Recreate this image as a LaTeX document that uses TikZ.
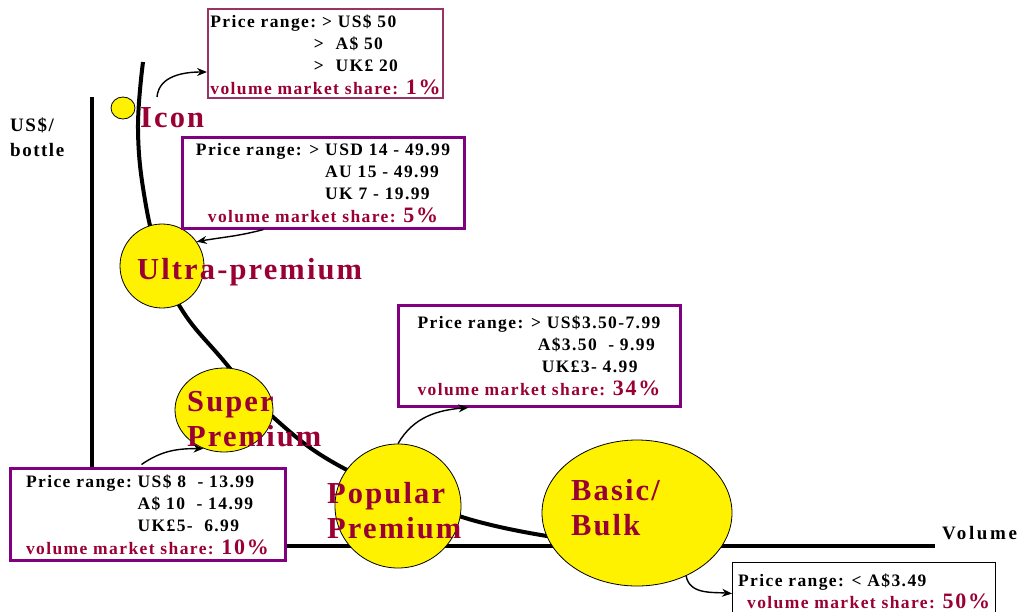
\documentclass[tikz,border=0pt]{standalone}
\usepackage{fontspec}
\setmainfont{Liberation Serif}[LetterSpace=8]
\usetikzlibrary{arrows.meta,shapes.geometric}
\definecolor{lblred}{RGB}{153,0,51}
\definecolor{iconborder}{RGB}{153,51,102}
\definecolor{boxpurple}{RGB}{128,0,128}
\newcommand{\pct}[1]{{\fontsize{22}{22}\selectfont #1}}
\newcommand{\lowerby}[2]{\raisebox{-#1}[\height][\depth]{#2}}
\begin{document}
\begin{tikzpicture}[x=1pt,y=1pt,
  ball/.style={draw=black, line width=0.8pt, fill=yellow, ellipse, inner sep=0},
  lbl/.style={text=lblred, font=\fontsize{30.5}{35}\selectfont\bfseries\addfontfeatures{LetterSpace=7}, align=left, inner sep=0, anchor=base west},
  axlbl/.style={text=black, font=\fontsize{19}{25}\selectfont\bfseries, align=left, inner sep=0, anchor=base west},
  pbox/.style={draw=boxpurple, line width=3pt, fill=white, inner sep=0, font=\fontsize{17.5}{22}\selectfont\bfseries},
  arr/.style={-{Stealth[length=10pt,width=8pt]}, line width=1.4pt},
  axis/.style={line width=4pt}
]
\useasboundingbox (0,0) rectangle (1019,-611);
% axes
\coordinate (ytop) at (92,-97);
\coordinate (origin) at (92,-546);
\coordinate (xright) at (935,-546);
\draw[axis] (ytop) -- (origin) -- (xright);
\node[axlbl] (ylab) at (10,-156) {US\$/\\bottle};
\node[axlbl, font=\fontsize{19}{25}\selectfont\bfseries\addfontfeatures{LetterSpace=14}] (xlab) at (942,-539) {Volume};
% curve
\draw[line width=4pt] plot[smooth,tension=0.7] coordinates {(143,-62) (138,-130) (145,-200) (160,-260) (182,-310) (223,-360) (273,-417) (347,-470) (462,-517) (560,-538)};
% balls
\node[ball, minimum width=24, minimum height=22] (iconball) at (123,-108) {};
\node[ball, minimum width=84, minimum height=84] (ultra) at (162,-266) {};
\node[ball, minimum width=98, minimum height=84] (super) at (224,-410) {};
\node[ball, minimum width=126, minimum height=124] (popular) at (398,-506) {};
\node[ball, minimum width=190, minimum height=146] (basic) at (637,-513) {};
% labels
\node[lbl] (iconlbl) at (140,-127) {Icon};
\node[lbl] (ultralbl) at (137,-279) {Ultra-premium};
\node[lbl] (superlbl) at (187,-446) {Super\\Premium};
\node[lbl] (poplbl) at (327,-538) {Popular\\Premium};
\node[lbl] (basiclbl) at (571,-535) {Basic/\\Bulk};
% boxes
\node[pbox, draw=iconborder, line width=2pt, minimum width=235, minimum height=87] (iconbox) at (325.5,-53.5) {%
\lowerby{3pt}{\begin{tabular}{@{}l@{\ }l@{}}
Price range: & > US\$ 50\\
 & \hspace{-8pt}>\ \ A\$ 50\\
 & \hspace{-8pt}>\ \ UK£ 20\\[1pt]
\multicolumn{2}{@{}c@{}}{\color{lblred}volume market share: \pct{1\%}}
\end{tabular}}};
\node[pbox, minimum width=282, minimum height=91] (ultrabox) at (323,-182.5) {%
\lowerby{2pt}{\begin{tabular}{@{}l@{\ }l@{}}
Price range: > & USD 14 - 49.99\\
 & AU 15 - 49.99\\
 & UK 7 - 19.99\\[1pt]
\multicolumn{2}{@{}c@{}}{\color{lblred}volume market share: \pct{5\%}}
\end{tabular}}};
\node[pbox, minimum width=282, minimum height=101] (popbox) at (539,-355.5) {%
\lowerby{2pt}{\begin{tabular}{@{}l@{\ }l@{}}
Price range: > & US\$3.50-7.99\\
 & \hspace{-9pt}A\$3.50\ \ - 9.99\\
 & \hspace{-5pt}UK£3- 4.99\\[1pt]
\multicolumn{2}{@{}l@{}}{\color{lblred}volume market share: \pct{34\%}}
\end{tabular}}};
\node[pbox, minimum width=275, minimum height=92] (superbox) at (147.5,-514) {%
\lowerby{3pt}{\begin{tabular}{@{}l@{\ }l@{}}
Price range: & US\$ 8\ \ - 13.99\\
 & A\$ 10\ \ - 14.99\\
 & UK£5-\ \ 6.99\\[1pt]
\multicolumn{2}{@{}l@{}}{\color{lblred}volume market share: \pct{10\%}}
\end{tabular}}};
\node[pbox, draw=black, line width=1.2pt, anchor=north west, minimum width=263, minimum height=60, inner xsep=1.5pt, inner ysep=4pt, align=left] (basicbox) at (732,-562) {%
\begin{tabular}{@{}l@{}}
Price range: < A\$3.49\\
\hspace{9pt}{\color{lblred}volume market share: \pct{50\%}}
\end{tabular}};
% arrows
\coordinate (iconarr) at (157,-97);
\draw[arr] (iconarr) to[out=85,in=180] ([yshift=-18.5pt]iconbox.west);
\draw[arr] ([xshift=83pt]ultrabox.south west) to[out=195,in=10] (ultra.35);
\draw[arr] ([xshift=133pt,yshift=2pt]superbox.north west) to[out=35,in=180] (super.-118);
\draw[arr] (popular.north) to[out=60,in=185] ([xshift=72pt]popbox.south west);
\draw[arr] (basic.-52) to[out=-80,in=175] ([yshift=-1pt]basicbox.west);
\end{tikzpicture}
\end{document}
